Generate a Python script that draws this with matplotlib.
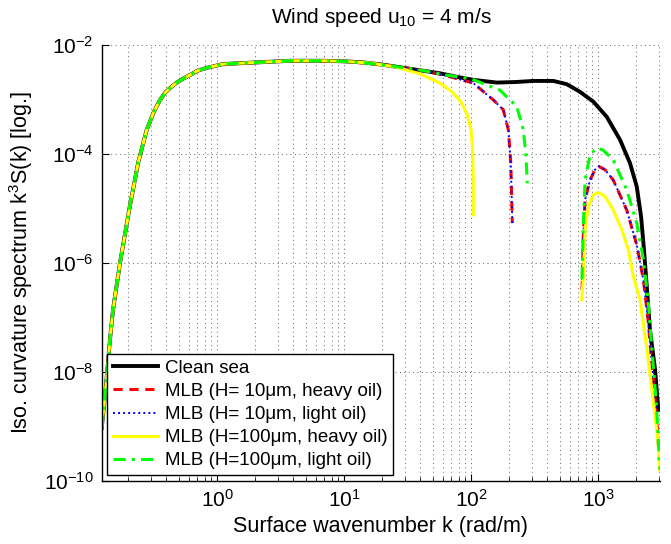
import numpy as np
import matplotlib
matplotlib.use("Agg")
import matplotlib.pyplot as plt
from matplotlib.ticker import FixedLocator, LogFormatterSciNotation, NullLocator, NullFormatter

plt.rcParams['font.family'] = ['Liberation Sans', 'DejaVu Sans']
plt.rcParams['mathtext.fontset'] = 'custom'
plt.rcParams['mathtext.rm'] = 'Liberation Sans'
plt.rcParams['mathtext.it'] = 'Liberation Sans:italic'
plt.rcParams['mathtext.default'] = 'regular'

# ---- data (log10 k, log10 S) ----
common_logk = [-0.908, -0.874, -0.843, -0.819, -0.764, -0.685, -0.620, -0.554, -0.500, -0.449,
               -0.410, -0.370, -0.317, -0.260, -0.213, -0.150, -0.081, 0.050, 0.313, 0.575,
               0.835, 1.000]
common_logs = [-9.03, -8.24, -7.41, -6.86, -6.00, -4.94, -4.15, -3.56, -3.24, -3.01,
               -2.88, -2.79, -2.69, -2.61, -2.55, -2.47, -2.42, -2.35, -2.32, -2.29,
               -2.29, -2.30]

clean_logk = [1.15, 1.30, 1.50, 1.756, 1.90, 2.018, 2.202, 2.35, 2.491, 2.648, 2.754, 2.858,
              2.963, 3.069, 3.173, 3.252, 3.305, 3.339, 3.362, 3.386, 3.409, 3.449, 3.475]
clean_logs = [-2.32, -2.36, -2.43, -2.52, -2.59, -2.64, -2.69, -2.68, -2.66, -2.66, -2.72, -2.86,
              -3.04, -3.32, -3.74, -4.17, -4.60, -5.15, -5.76, -6.50, -7.23, -7.96, -8.70]

h10_logk_a = [1.30, 1.60, 1.80, 2.018, 2.176, 2.254, 2.294, 2.313, 2.320, 2.325]
h10_logs_a = [-2.36, -2.46, -2.56, -2.70, -3.01, -3.19, -3.56, -4.17, -4.78, -5.27]
h10_logk_b = [2.874, 2.883, 2.898, 2.937, 2.976, 3.006, 3.055, 3.120, 3.226, 3.305, 3.357,
              3.394, 3.425, 3.457, 3.483, 3.488]
h10_logs_b = [-6.50, -5.58, -4.84, -4.48, -4.29, -4.23, -4.29, -4.48, -5.03, -5.67, -6.31,
              -7.05, -7.87, -8.70, -9.61, -9.80]

h100h_logk_a = [1.20, 1.40, 1.60, 1.756, 1.85, 1.92, 1.97, 2.000, 2.012, 2.017, 2.018]
h100h_logs_a = [-2.33, -2.40, -2.53, -2.70, -2.86, -3.04, -3.28, -3.55, -3.90, -4.40, -5.12]
h100h_logk_b = [2.872, 2.883, 2.898, 2.924, 2.963, 3.002, 3.055, 3.120, 3.187, 3.239, 3.278,
                3.331, 3.386, 3.433, 3.472, 3.485]
h100h_logs_b = [-6.68, -6.31, -5.39, -4.97, -4.75, -4.71, -4.78, -5.03, -5.39, -5.76, -6.25,
                -6.68, -7.60, -8.51, -9.25, -9.80]

h100l_logk_a = [1.30, 1.60, 1.80, 2.000, 2.228, 2.360, 2.412, 2.433, 2.443]
h100l_logs_a = [-2.36, -2.46, -2.55, -2.62, -2.83, -3.13, -3.56, -4.05, -4.54]
h100l_logk_b = [2.874, 2.883, 2.898, 2.937, 2.990, 3.040, 3.120, 3.226, 3.305, 3.357, 3.394,
                3.425, 3.457, 3.483, 3.488]
h100l_logs_b = [-6.30, -5.39, -4.48, -4.02, -3.89, -3.93, -4.11, -4.66, -5.27, -5.94, -6.68,
                -7.60, -8.51, -9.61, -9.80]

labels = ['Clean sea', 'MLB (H= 10\u03bcm, heavy oil)', 'MLB (H= 10\u03bcm, light oil)',
          'MLB (H=100\u03bcm, heavy oil)', 'MLB (H=100\u03bcm, light oil)']
x_ticks = [1e0, 1e1, 1e2, 1e3]
y_ticks = [1e-10, 1e-8, 1e-6, 1e-4, 1e-2]


def series(tail_k, tail_s, lobe_k=None, lobe_s=None):
    k = np.array(common_logk + tail_k)
    s = np.array(common_logs + tail_s)
    if lobe_k is not None:
        k = np.concatenate([k, [np.nan], lobe_k])
        s = np.concatenate([s, [np.nan], lobe_s])
    return 10.0 ** k, 10.0 ** s


fig = plt.figure(figsize=(6.71, 5.44), dpi=100)
ax = fig.add_axes([0.1516, 0.1164, 0.9836 - 0.1516, 0.9173 - 0.1164])

k, s = series(clean_logk, clean_logs)
ax.plot(k, s, color='black', lw=2.8, label=labels[0])
k, s = series(h10_logk_a, h10_logs_a, h10_logk_b, h10_logs_b)
ax.plot(k, s, color='red', lw=2.2, ls=(0, (3, 2.2)), label=labels[1])
ax.plot(k, s, color='blue', lw=1.4, ls=(0, (1, 1.6)), label=labels[2])
k, s = series(h100h_logk_a, h100h_logs_a, h100h_logk_b, h100h_logs_b)
ax.plot(k, s, color='yellow', lw=2.2, label=labels[3])
k, s = series(h100l_logk_a, h100l_logs_a, h100l_logk_b, h100l_logs_b)
ax.plot(k, s, color='#00ff00', lw=2.2, ls=(0, (4, 2, 1, 2)), label=labels[4])

ax.set_xscale('log')
ax.set_yscale('log')
ax.set_xlim(10 ** -0.908, 10 ** 3.488)
ax.set_ylim(1e-10, 1e-2)
ax.xaxis.set_major_locator(FixedLocator(x_ticks))
minor_x = [m * 10.0 ** e for e in range(-1, 4) for m in range(2, 10)]
ax.xaxis.set_minor_locator(FixedLocator(minor_x))
ax.xaxis.set_minor_formatter(NullFormatter())
ax.xaxis.set_major_formatter(LogFormatterSciNotation(base=10))
ax.yaxis.set_major_locator(FixedLocator(y_ticks))
ax.yaxis.set_major_formatter(LogFormatterSciNotation(base=10))
ax.yaxis.set_minor_locator(NullLocator())

ax.grid(True, which='major', ls=(0, (1, 3.5)), color='#666666', lw=0.7)
ax.grid(True, which='minor', axis='x', ls=(0, (1, 3.5)), color='#666666', lw=0.7)
for sp in ['top', 'right']:
    ax.spines[sp].set_visible(False)
for sp in ['left', 'bottom']:
    ax.spines[sp].set_linewidth(1.0)
ax.tick_params(which='both', direction='in', labelsize=15, top=False, right=False)
ax.tick_params(which='major', length=5, pad=6)
ax.tick_params(which='minor', length=3)

ax.set_xlabel('Surface wavenumber k (rad/m)', fontsize=15.5, labelpad=4)
ax.set_ylabel('Iso. curvature spectrum k$^3$S(k) [log.]', fontsize=15.5, labelpad=6)
ax.set_title('Wind speed u$_{10}$ = 4 m/s', fontsize=15, pad=16)

leg = ax.legend(loc='lower left', fontsize=13.5, frameon=True, fancybox=False,
                edgecolor='black', framealpha=1, borderpad=0.3, labelspacing=0.32,
                handlelength=2.4, handletextpad=0.35, borderaxespad=0.3)
leg.get_frame().set_linewidth(1.0)

fig.savefig('out.png', dpi=100)
